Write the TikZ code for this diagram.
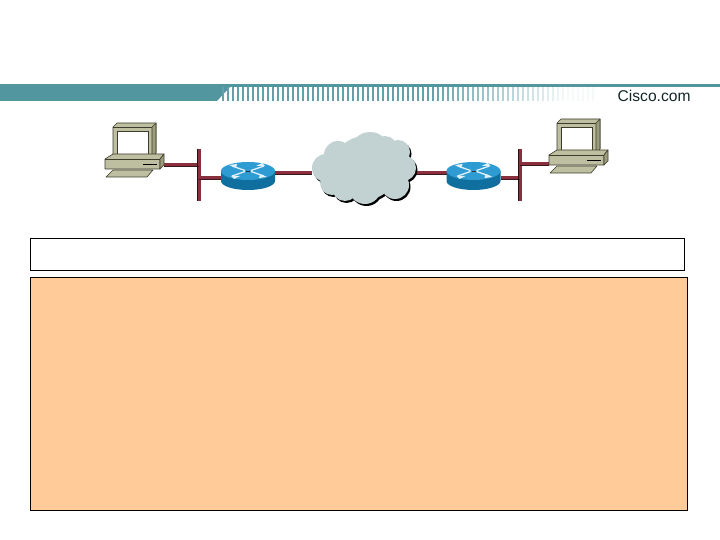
\documentclass[tikz,border=0pt]{standalone}
\usepackage{fontspec}
\setmainfont{Liberation Sans}
\definecolor{teal1}{HTML}{5296A0}
\definecolor{wire}{HTML}{8A2F3E}
\definecolor{pcbody}{HTML}{BEBEA0}
\definecolor{pcside}{HTML}{9C9C7C}
\definecolor{pcedge}{HTML}{3C3C2C}
\definecolor{cloudc}{HTML}{C2D2D2}
\definecolor{rtop}{HTML}{2E9BD2}
\definecolor{rbody}{HTML}{0F6F9F}
\definecolor{orangebox}{HTML}{FFCC99}
\tikzset{
  anchorbox/.style={rectangle,inner sep=0pt,outer sep=0pt,minimum width=#1},
  wirelink/.style={line width=3.8pt,draw=wire},
  busbar/.style={rectangle,inner sep=0pt,outer sep=0pt,fill=wire,minimum width=3.8pt,minimum height=52pt},
  panel/.style={rectangle,draw=black,line width=0.9pt,inner sep=0pt,outer sep=0pt},
  pcline/.style={draw=pcedge,line width=0.6pt,line join=round},
}
\newcommand{\drawpc}[2]{%
\begin{scope}[shift={(#1,#2)}]
 \filldraw[pcline,fill=pcbody] (113,127)--(117,123)--(156,123)--(156,153)--(152,158)--(113,158)--cycle;
 \filldraw[pcline,fill=pcside] (152,127)--(156,123)--(156,153)--(152,158)--cycle;
 \draw[pcline] (113,127)--(152,127);
 \filldraw[draw=pcedge,line width=0.8pt,fill=white] (117,131.5)--(148.5,131.5)--(148.5,154.5)--(117,154.5)--cycle;
 \filldraw[pcline,fill=pcbody] (105,159)--(113,154)--(164,154)--(160,159)--(160,169)--(105,169)--cycle;
 \filldraw[pcline,fill=pcside] (160,159)--(164,154)--(164,165)--(160,169)--cycle;
 \draw[pcline] (105,159)--(160,159);
 \draw[black,line width=0.9pt] (143,164)--(157,164);
 \filldraw[pcline,fill=pcbody] (106,177)--(113,170)--(153,170)--(147,177)--cycle;
\end{scope}}
\newcommand{\drawrouter}[2]{%
\begin{scope}[shift={(#1,#2)}]
 \fill[rbody] (-27,-5) -- (-27,5) arc[start angle=180,end angle=0,x radius=27,y radius=9] -- (27,-5) -- cycle;
 \fill[rtop] (0,-5) ellipse[x radius=27,y radius=9];
 \draw[white!85!rtop,line width=1.3pt] (-16,-10)--(-3,-5.5) (3,-4.5)--(16,0) (16,-10)--(3,-5.5) (-3,-4.5)--(-16,0);
 \fill[white!85!rtop] (-19,-11)--(-11,-12)--(-12,-8)--cycle (19,1)--(11,2)--(12,-2)--cycle (8,-10)--(14,-13)--(17,-10)--cycle (-8,0)--(-14,3)--(-17,0)--cycle;
 \draw[black!80,line width=0.6pt] (-2,-5)--(2,-5);
\end{scope}}
\newcommand{\cloudcircles}{%
 (370,152) circle[radius=20] (338,155) circle[radius=14] (326,168) circle[radius=14]
 (332,183) circle[radius=12] (345,188) circle[radius=13] (365,188) circle[radius=16]
 (395,185) circle[radius=14] (403,168) circle[radius=13] (398,152) circle[radius=12]
 (385,148) circle[radius=12] (365,168) circle[radius=32]}
\begin{document}
\begin{tikzpicture}[x=1pt,y=-1pt]
\useasboundingbox (0,0) rectangle (720,540);
% header
\fill[teal1] (0,84) rectangle (720,87.5);
\fill[teal1] (0,87) -- (230,87) -- (217,101) -- (0,101) -- cycle;
\foreach \x [evaluate=\x as \p using {\x<430?90:max(6,90-(\x-430)*0.62)}] in {222,227,...,592}
  \fill[teal1!\p!white] (\x,87) rectangle (\x+2.2,101);
\node[anchor=west,inner sep=0pt,text=black!75!teal1,font=\fontsize{15.6}{17}\selectfont] (brand) at (617.5,96) {Cisco.com};
% anchors
\node[anchorbox=59pt,minimum height=50pt] (pcL) at (134.5,150) {};
\node[anchorbox=59pt,minimum height=50pt] (pcR) at (578.5,146) {};
\node[busbar] (busL) at (199,175) {};
\node[busbar] (busR) at (520,175) {};
\node[anchorbox=54pt,minimum height=28pt] (rtrL) at (248,176) {};
\node[anchorbox=54pt,minimum height=28pt] (rtrR) at (473.5,176) {};
\node[anchorbox=104pt,minimum height=72pt] (cloudN) at (364,168) {};
% wires
\coordinate (wA) at (pcL.east |- 0,165);
\coordinate (wB) at (busL.center |- 0,165);
\coordinate (wC) at (busL.center |- 0,178);
\coordinate (wD) at (rtrL.west |- 0,178);
\coordinate (wE) at (rtrL.east |- 0,173);
\coordinate (wF) at (cloudN.west |- 0,173);
\coordinate (wG) at (cloudN.east |- 0,173);
\coordinate (wH) at (rtrR.west |- 0,173);
\coordinate (wI) at (rtrR.east |- 0,178);
\coordinate (wJ) at (busR.center |- 0,178);
\coordinate (wK) at (busR.center |- 0,164);
\coordinate (wL) at (pcR.west |- 0,164);
\foreach \s/\e in {wA/wB,wC/wD,wE/wF,wG/wH,wI/wJ,wK/wL}{
  \draw[wirelink] (\s) -- (\e);
  \draw[wire!45!black,line width=0.7pt] ([yshift=-1.6pt]\s) -- ([yshift=-1.6pt]\e);
}
% bus bars
\draw[wire!30!black,line width=0.8pt] ([xshift=-1.6pt]busL.north) -- ([xshift=-1.6pt]busL.south);
\draw[wire!30!black,line width=0.8pt] ([xshift=-1.6pt]busR.north) -- ([xshift=-1.6pt]busR.south);
% devices
\drawpc{0}{0}
\drawpc{444}{-4}
\drawrouter{248}{176}
\drawrouter{473.5}{176}
% cloud
\fill[black,shift={(1.5,2)}] \cloudcircles;
\fill[cloudc] \cloudcircles;
% panels
\node[panel,fill=white,anchor=north west,minimum width=654pt,minimum height=32pt] (topbox) at (30,238) {};
\node[panel,fill=orangebox,anchor=north west,minimum width=657pt,minimum height=233pt] (mainbox) at (30,277) {};
\end{tikzpicture}
\end{document}
